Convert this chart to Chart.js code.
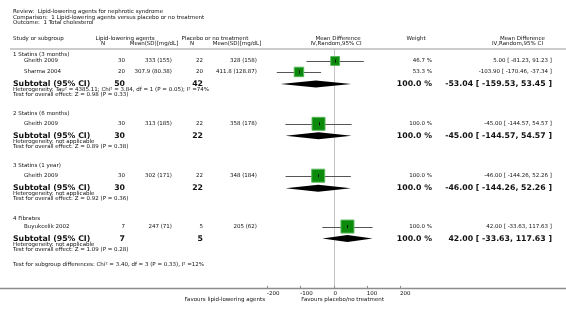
<!DOCTYPE html>
<html>
<head>
<meta charset="utf-8">
<script src="https://cdn.jsdelivr.net/npm/chart.js@4/dist/chart.umd.min.js"></script>
<style>
  html, body { margin: 0; padding: 0; background: #fff; }
  #wrap { width: 566px; height: 313px; }
</style>
</head>
<body>
<div id="wrap"><canvas id="forest" width="566" height="313"></canvas></div>
<script>
// ---- data ----
const reviewTitle = 'Review:  Lipid-lowering agents for nephrotic syndrome';
const comparisonTitle = 'Comparison:  1 Lipid-lowering agents versus placebo or no treatment';
const outcomeTitle = 'Outcome:  1 Total cholesterol';

const groupNames = ['1 Statins (3 months)', '2 Statins (6 months)', '3 Statins (1 year)', '4 Fibrates'];

const studyNames = ['Gheith 2009', 'Sharma 2004', 'Gheith 2009', 'Gheith 2009', 'Buyukcelik 2002'];
const studyGroup = [0, 0, 1, 2, 3];
const expN = [30, 20, 30, 30, 7];
const expMeanSD = ['333 (155)', '307.9 (80.38)', '313 (185)', '302 (171)', '247 (71)'];
const ctlN = [22, 20, 22, 22, 5];
const ctlMeanSD = ['328 (158)', '411.8 (128.87)', '358 (178)', '348 (184)', '205 (62)'];
const studyWeight = [46.7, 53.3, 100.0, 100.0, 100.0];
const studyMD = [5.00, -103.90, -45.00, -46.00, 42.00];
const studyLow = [-81.23, -170.46, -144.57, -144.26, -33.63];
const studyHigh = [91.23, -37.34, 54.57, 52.26, 117.63];

const subtotalExpN = [50, 30, 30, 7];
const subtotalCtlN = [42, 22, 22, 5];
const subtotalMD = [-53.04, -45.00, -46.00, 42.00];
const subtotalLow = [-159.53, -144.57, -144.26, -33.63];
const subtotalHigh = [53.45, 54.57, 52.26, 117.63];
const heterogeneity = [
  'Heterogeneity: Tau\u00b2 = 4385.11; Chi\u00b2 = 3.84, df = 1 (P = 0.05); I\u00b2 =74%',
  'Heterogeneity: not applicable',
  'Heterogeneity: not applicable',
  'Heterogeneity: not applicable'
];
const overallEffect = [
  'Test for overall effect: Z = 0.98 (P = 0.33)',
  'Test for overall effect: Z = 0.89 (P = 0.38)',
  'Test for overall effect: Z = 0.92 (P = 0.36)',
  'Test for overall effect: Z = 1.09 (P = 0.28)'
];
const subgroupTest = 'Test for subgroup differences: Chi\u00b2 = 3.40, df = 3 (P = 0.33), I\u00b2 =12%';

const xTicks = [-200, -100, 0, 100, 200];
const favoursLeft = 'Favours lipid-lowering agents';
const favoursRight = 'Favours placebo/no treatment';

// ---- layout: row positions in row units (y scale), column positions in px ----
const groupRows = [
  { title: 1.2, studies: [2.4, 4.6], subtotal: 7.0 },
  { title: 13.0, studies: [15.0], subtotal: 17.4 },
  { title: 23.4, studies: [25.4], subtotal: 27.9 },
  { title: 34.1, studies: [35.6], subtotal: 38.0 }
];
const subgroupTestRow = 43.2;

const FONT = '"DejaVu Sans", Verdana, sans-serif';
const SMALL = '5.5px ' + FONT;
const BOLD = 'bold 7.8px ' + FONT;
const INK = '#111';

const col = {
  left: 13, study: 24,
  expN: 125, expMean: 172, ctlN: 203, ctlMean: 257,
  weight: 432, ci: 552
};

function fmt2(v) { return v.toFixed(2); }
function ciText(m, lo, hi) { return fmt2(m) + ' [ ' + fmt2(lo) + ', ' + fmt2(hi) + ' ]'; }

// study rows in y units, in study order
const studyRowY = [];
(function () {
  const seen = [0, 0, 0, 0];
  studyGroup.forEach(function (g) {
    studyRowY.push(groupRows[g].studies[seen[g]]);
    seen[g]++;
  });
})();

function text(ctx, s, x, y, align, font) {
  ctx.font = font || SMALL;
  ctx.textAlign = align || 'left';
  ctx.fillText(s, x, y);
}

const forestPlugin = {
  id: 'forest',
  beforeDatasetsDraw(chart) {
    const ctx = chart.ctx, xs = chart.scales.x, ys = chart.scales.y, area = chart.chartArea;
    ctx.save();
    // zero line
    ctx.strokeStyle = '#c4c4c4';
    ctx.lineWidth = 1;
    ctx.beginPath();
    ctx.moveTo(Math.round(xs.getPixelForValue(0)) + 0.5, area.top);
    ctx.lineTo(Math.round(xs.getPixelForValue(0)) + 0.5, area.bottom);
    ctx.stroke();
    // confidence intervals
    ctx.strokeStyle = '#555';
    studyMD.forEach(function (m, i) {
      const y = Math.round(ys.getPixelForValue(studyRowY[i])) + 0.5;
      ctx.beginPath();
      ctx.moveTo(xs.getPixelForValue(Math.max(studyLow[i], xs.min)), y);
      ctx.lineTo(xs.getPixelForValue(Math.min(studyHigh[i], xs.max)), y);
      ctx.stroke();
    });
    ctx.restore();
  },
  afterDatasetsDraw(chart) {
    const ctx = chart.ctx, xs = chart.scales.x, ys = chart.scales.y, area = chart.chartArea;
    const W = chart.width;
    ctx.save();
    ctx.fillStyle = INK;
    ctx.textBaseline = 'middle';

    // point estimate tick inside squares
    ctx.strokeStyle = '#111';
    ctx.lineWidth = 1;
    studyMD.forEach(function (m, i) {
      const x = Math.round(xs.getPixelForValue(m)) + 0.5;
      const y = ys.getPixelForValue(studyRowY[i]);
      ctx.beginPath();
      ctx.moveTo(x, y - 1.5);
      ctx.lineTo(x, y + 1.5);
      ctx.stroke();
    });

    // diamonds
    ctx.fillStyle = '#000';
    subtotalMD.forEach(function (m, g) {
      const y = ys.getPixelForValue(groupRows[g].subtotal);
      ctx.beginPath();
      ctx.moveTo(xs.getPixelForValue(subtotalLow[g]), y);
      ctx.lineTo(xs.getPixelForValue(m), y - 3.5);
      ctx.lineTo(xs.getPixelForValue(subtotalHigh[g]), y);
      ctx.lineTo(xs.getPixelForValue(m), y + 3.5);
      ctx.closePath();
      ctx.fill();
    });

    ctx.fillStyle = INK;
    // titles
    text(ctx, reviewTitle, col.left, 12);
    text(ctx, comparisonTitle, col.left, 17.5);
    text(ctx, outcomeTitle, col.left, 23);

    // header
    text(ctx, 'Study or subgroup', col.left, 38.5);
    text(ctx, 'Lipid-lowering agents', 125, 38.5, 'center');
    text(ctx, 'N', 103, 44, 'center');
    text(ctx, 'Mean(SD)[mg/dL]', 154, 44, 'center');
    text(ctx, 'Placebo or no treatment', 215, 38.5, 'center');
    text(ctx, 'N', 192, 44, 'center');
    text(ctx, 'Mean(SD)[mg/dL]', 237, 44, 'center');
    text(ctx, 'Mean Difference', 338, 38.5, 'center');
    text(ctx, 'IV,Random,95% CI', 336, 44, 'center');
    text(ctx, 'Weight', 416, 38.5, 'center');
    text(ctx, 'Mean Difference', 545, 38.5, 'right');
    text(ctx, 'IV,Random,95% CI', 543, 44, 'right');

    // header rule
    ctx.strokeStyle = '#9a9a9a';
    ctx.lineWidth = 1.2;
    ctx.beginPath();
    ctx.moveTo(10, area.top);
    ctx.lineTo(W, area.top);
    ctx.stroke();

    // groups
    groupNames.forEach(function (name, g) {
      const r = groupRows[g];
      text(ctx, name, col.left, ys.getPixelForValue(r.title));
      const ySub = ys.getPixelForValue(r.subtotal);
      text(ctx, 'Subtotal (95% CI)', col.left, ySub, 'left', BOLD);
      text(ctx, String(subtotalExpN[g]), col.expN, ySub, 'right', BOLD);
      text(ctx, String(subtotalCtlN[g]), col.ctlN, ySub, 'right', BOLD);
      text(ctx, '100.0 %', col.weight, ySub, 'right', BOLD);
      text(ctx, ciText(subtotalMD[g], subtotalLow[g], subtotalHigh[g]), col.ci, ySub, 'right', BOLD);
      text(ctx, heterogeneity[g], col.left, ySub + 5.6);
      text(ctx, overallEffect[g], col.left, ySub + 10.8);
    });

    // studies
    studyNames.forEach(function (name, i) {
      const y = ys.getPixelForValue(studyRowY[i]);
      text(ctx, name, col.study, y);
      text(ctx, String(expN[i]), col.expN, y, 'right');
      text(ctx, expMeanSD[i], col.expMean, y, 'right');
      text(ctx, String(ctlN[i]), col.ctlN, y, 'right');
      text(ctx, ctlMeanSD[i], col.ctlMean, y, 'right');
      text(ctx, studyWeight[i].toFixed(1) + ' %', col.weight, y, 'right');
      text(ctx, ciText(studyMD[i], studyLow[i], studyHigh[i]), col.ci, y, 'right');
    });

    text(ctx, subgroupTest, col.left, ys.getPixelForValue(subgroupTestRow));

    // x axis line across the page and tick marks
    ctx.strokeStyle = '#8c8c8c';
    ctx.lineWidth = 1.5;
    ctx.beginPath();
    ctx.moveTo(0, area.bottom);
    ctx.lineTo(W, area.bottom);
    ctx.stroke();
    ctx.lineWidth = 1;
    xTicks.forEach(function (t) {
      const x = Math.round(xs.getPixelForValue(t)) + 0.5;
      ctx.beginPath();
      ctx.moveTo(x, area.bottom - 2.5);
      ctx.lineTo(x, area.bottom);
      ctx.stroke();
    });

    text(ctx, favoursLeft, xs.getPixelForValue(-200) - 2, area.bottom + 11, 'right');
    text(ctx, favoursRight, xs.getPixelForValue(-100) + 1, area.bottom + 11, 'left');
    ctx.restore();
  }
};

const squareData = studyMD.map(function (m, i) { return { x: m, y: studyRowY[i] }; });
const squareRadius = studyWeight.map(function (w) { return 13 * Math.sqrt(w / 100) / Math.SQRT2; });

new Chart(document.getElementById('forest'), {
  type: 'scatter',
  data: {
    datasets: [{
      data: squareData,
      pointStyle: 'rect',
      pointRadius: squareRadius,
      backgroundColor: '#0b8a0b',
      borderColor: '#5cb85c',
      borderWidth: 1
    }]
  },
  options: {
    responsive: false,
    animation: false,
    events: [],
    layout: { padding: { left: 267, right: 166, top: 49, bottom: 14 } },
    plugins: { legend: { display: false }, tooltip: { enabled: false } },
    scales: {
      x: {
        type: 'linear',
        min: -200,
        max: 200,
        afterBuildTicks: function (axis) { axis.ticks = xTicks.map(function (v) { return { value: v }; }); },
        grid: { display: false, drawTicks: false },
        border: { display: false },
        ticks: { color: INK, font: { family: FONT, size: 5.5 }, padding: 2, align: 'start', maxRotation: 0, autoSkip: false }
      },
      y: {
        type: 'linear',
        display: false,
        reverse: true,
        min: 0,
        max: 48
      }
    }
  },
  plugins: [forestPlugin]
});
</script>
</body>
</html>
